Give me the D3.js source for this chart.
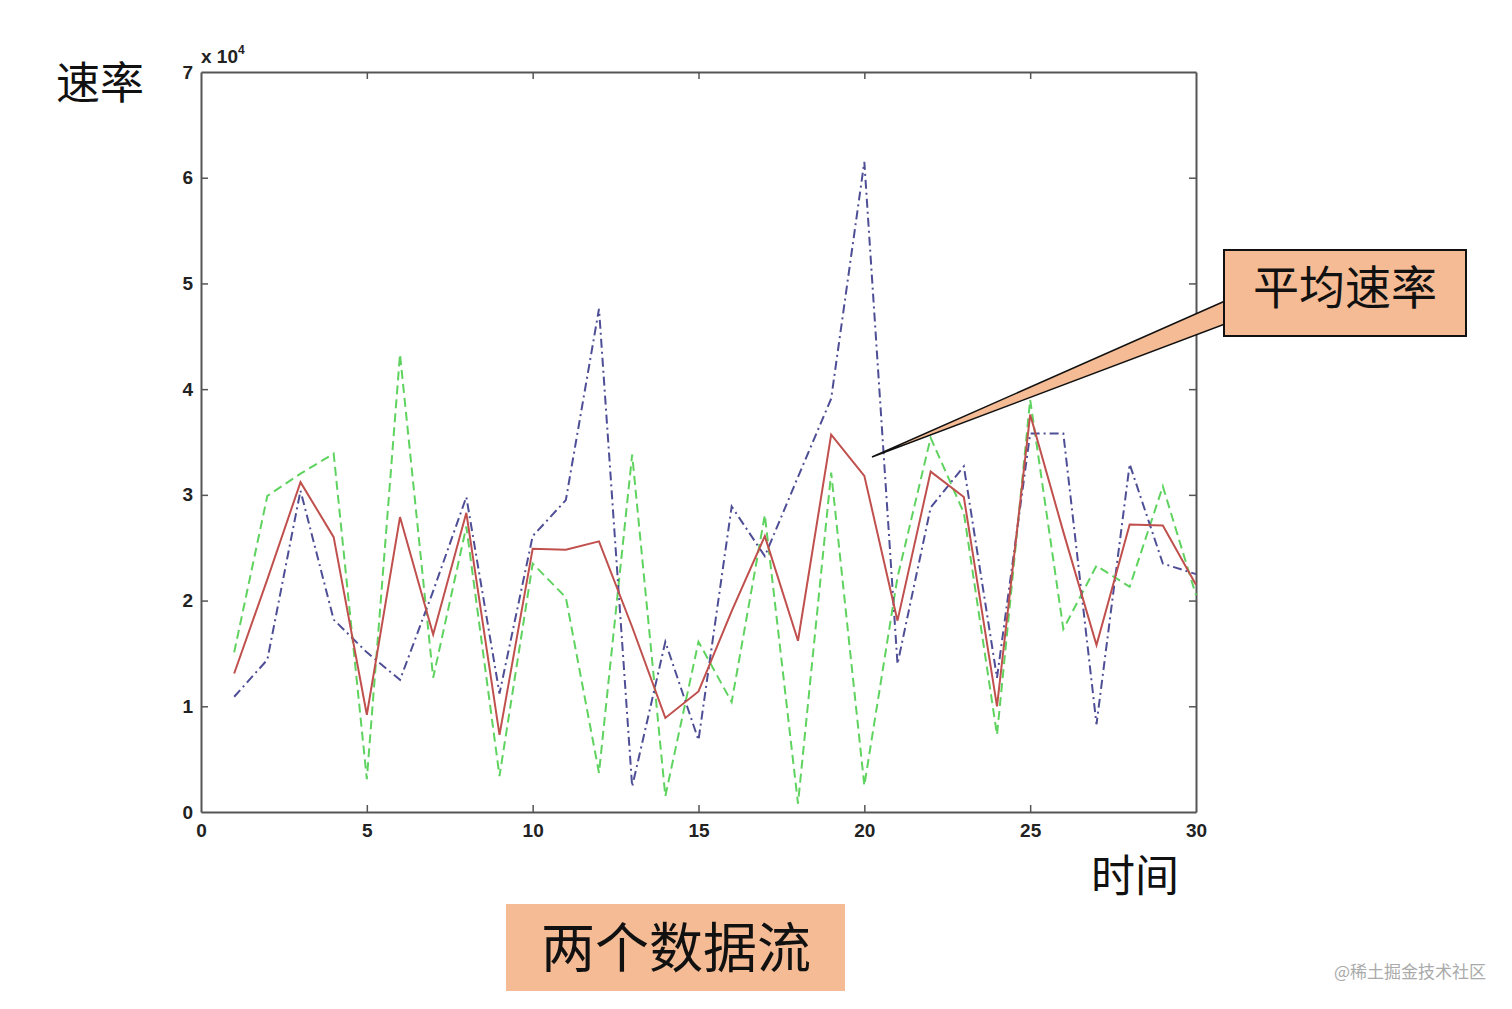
<!DOCTYPE html>
<html><head><meta charset="utf-8">
<script src="https://cdn.jsdelivr.net/npm/d3@7"></script>
<style>body{margin:0;background:#fff}svg{display:block}</style>
</head><body>
<script>
const times = d3.range(1, 31);
const streamA = [1.51,2.99,3.20,3.39,0.31,4.33,1.27,2.70,0.34,2.35,2.03,0.37,3.38,0.15,1.61,1.04,2.81,0.08,3.21,0.25,2.22,3.54,2.83,0.73,3.90,1.73,2.33,2.13,3.08,2.05];
const streamB = [1.09,1.44,3.04,1.82,1.51,1.25,2.09,2.98,1.12,2.61,2.95,4.76,0.24,1.61,0.68,2.89,2.42,3.17,3.91,6.15,1.40,2.88,3.27,1.27,3.58,3.58,0.83,3.29,2.35,2.25];
const average = [1.31,2.20,3.12,2.60,0.92,2.79,1.68,2.83,0.73,2.49,2.48,2.56,1.75,0.89,1.14,1.90,2.61,1.62,3.57,3.18,1.81,3.22,2.98,1.00,3.76,2.65,1.58,2.72,2.71,2.15];
const xTicks = [0,5,10,15,20,25,30];
const yTicks = [0,1,2,3,4,5,6,7];

const W = 1512, H = 1009;
const svg = d3.select("body").append("svg").attr("width", W).attr("height", H);
const x = d3.scaleLinear().domain([0, 30]).range([201, 1196]);
const y = d3.scaleLinear().domain([0, 7]).range([812, 72]);
const axisCol = "#555";
const fontNum = "Liberation Sans, Arial, sans-serif";
const fontCJK = "'Noto Sans CJK SC', sans-serif";
const fmt = d3.format("d");

// axes (MATLAB-style box with inward ticks)
const gB = svg.append("g").attr("transform", `translate(0,${y(0)})`)
  .call(d3.axisBottom(x).tickValues(xTicks).tickFormat(fmt).tickSizeInner(-7).tickSizeOuter(0).tickPadding(12));
const gT = svg.append("g").attr("transform", `translate(0,${y(7)})`)
  .call(d3.axisTop(x).tickValues(xTicks).tickSizeInner(-7).tickSizeOuter(0).tickFormat(""));
const gL = svg.append("g").attr("transform", `translate(${x(0)},0)`)
  .call(d3.axisLeft(y).tickValues(yTicks).tickFormat(fmt).tickSizeInner(-7).tickSizeOuter(0).tickPadding(8));
const gR = svg.append("g").attr("transform", `translate(${x(30)},0)`)
  .call(d3.axisRight(y).tickValues(yTicks).tickSizeInner(-7).tickSizeOuter(0).tickFormat(""));
[gB, gT, gL, gR].forEach(g => {
  g.select(".domain").attr("stroke", axisCol).attr("stroke-width", 2);
  g.selectAll(".tick line").attr("stroke", axisCol).attr("stroke-width", 1.5);
  g.selectAll("text").attr("fill", "#222").style("font-family", fontNum).style("font-size", "19px").style("font-weight", "bold");
});
gL.selectAll(".tick").filter(d => d === 0 || d === 7).select("line").remove();
gB.selectAll(".tick").filter(d => d === 0 || d === 30).select("line").remove();
gT.selectAll(".tick").filter(d => d === 0 || d === 30).select("line").remove();
gR.selectAll(".tick").filter(d => d === 0 || d === 7).select("line").remove();

// exponent label
const ex = svg.append("text").attr("x", 201).attr("y", 63).attr("fill", "#222")
  .style("font-family", fontNum).style("font-size", "19px").style("font-weight", "bold");
ex.append("tspan").text("x 10");
ex.append("tspan").attr("dy", -9).style("font-size", "12px").text("4");

// lines
const line = arr => d3.line().x((d, i) => x(times[i])).y(d => y(d))(arr);
svg.append("path").attr("d", line(streamA)).attr("fill", "none")
  .attr("stroke", "#5fd35f").attr("stroke-width", 2).attr("stroke-dasharray", "9,5");
svg.append("path").attr("d", line(streamB)).attr("fill", "none")
  .attr("stroke", "#4e4e96").attr("stroke-width", 2).attr("stroke-dasharray", "9,4,2,4");
svg.append("path").attr("d", line(average)).attr("fill", "none")
  .attr("stroke", "#c0504d").attr("stroke-width", 2);

// axis titles
svg.append("text").attr("x", 100).attr("y", 99).attr("text-anchor", "middle")
  .style("font-family", fontCJK).style("font-size", "44px").attr("fill", "#111").text("速率");
svg.append("text").attr("x", 1135).attr("y", 892).attr("text-anchor", "middle")
  .style("font-family", fontCJK).style("font-size", "44px").attr("fill", "#111").text("时间");

// callout
const peach = "#f5bb94";
svg.append("path").attr("d", "M1225,301 L872,457 L1225,324 Z")
  .attr("fill", peach).attr("stroke", "#111").attr("stroke-width", 1.5);
svg.append("rect").attr("x", 1224).attr("y", 250).attr("width", 242).attr("height", 86)
  .attr("fill", peach).attr("stroke", "#111").attr("stroke-width", 2);
svg.append("text").attr("x", 1345).attr("y", 304).attr("text-anchor", "middle")
  .style("font-family", fontCJK).style("font-size", "46px").attr("fill", "#111").text("平均速率");

// bottom label
svg.append("rect").attr("x", 506).attr("y", 904).attr("width", 339).attr("height", 87).attr("fill", peach);
svg.append("text").attr("x", 676).attr("y", 968).attr("text-anchor", "middle")
  .style("font-family", fontCJK).style("font-size", "54px").attr("fill", "#111").text("两个数据流");

// watermark
svg.append("text").attr("x", 1486).attr("y", 978).attr("text-anchor", "end")
  .style("font-family", fontCJK).style("font-size", "17px").attr("fill", "#aaa").text("@稀土掘金技术社区");
</script>
</body></html>
